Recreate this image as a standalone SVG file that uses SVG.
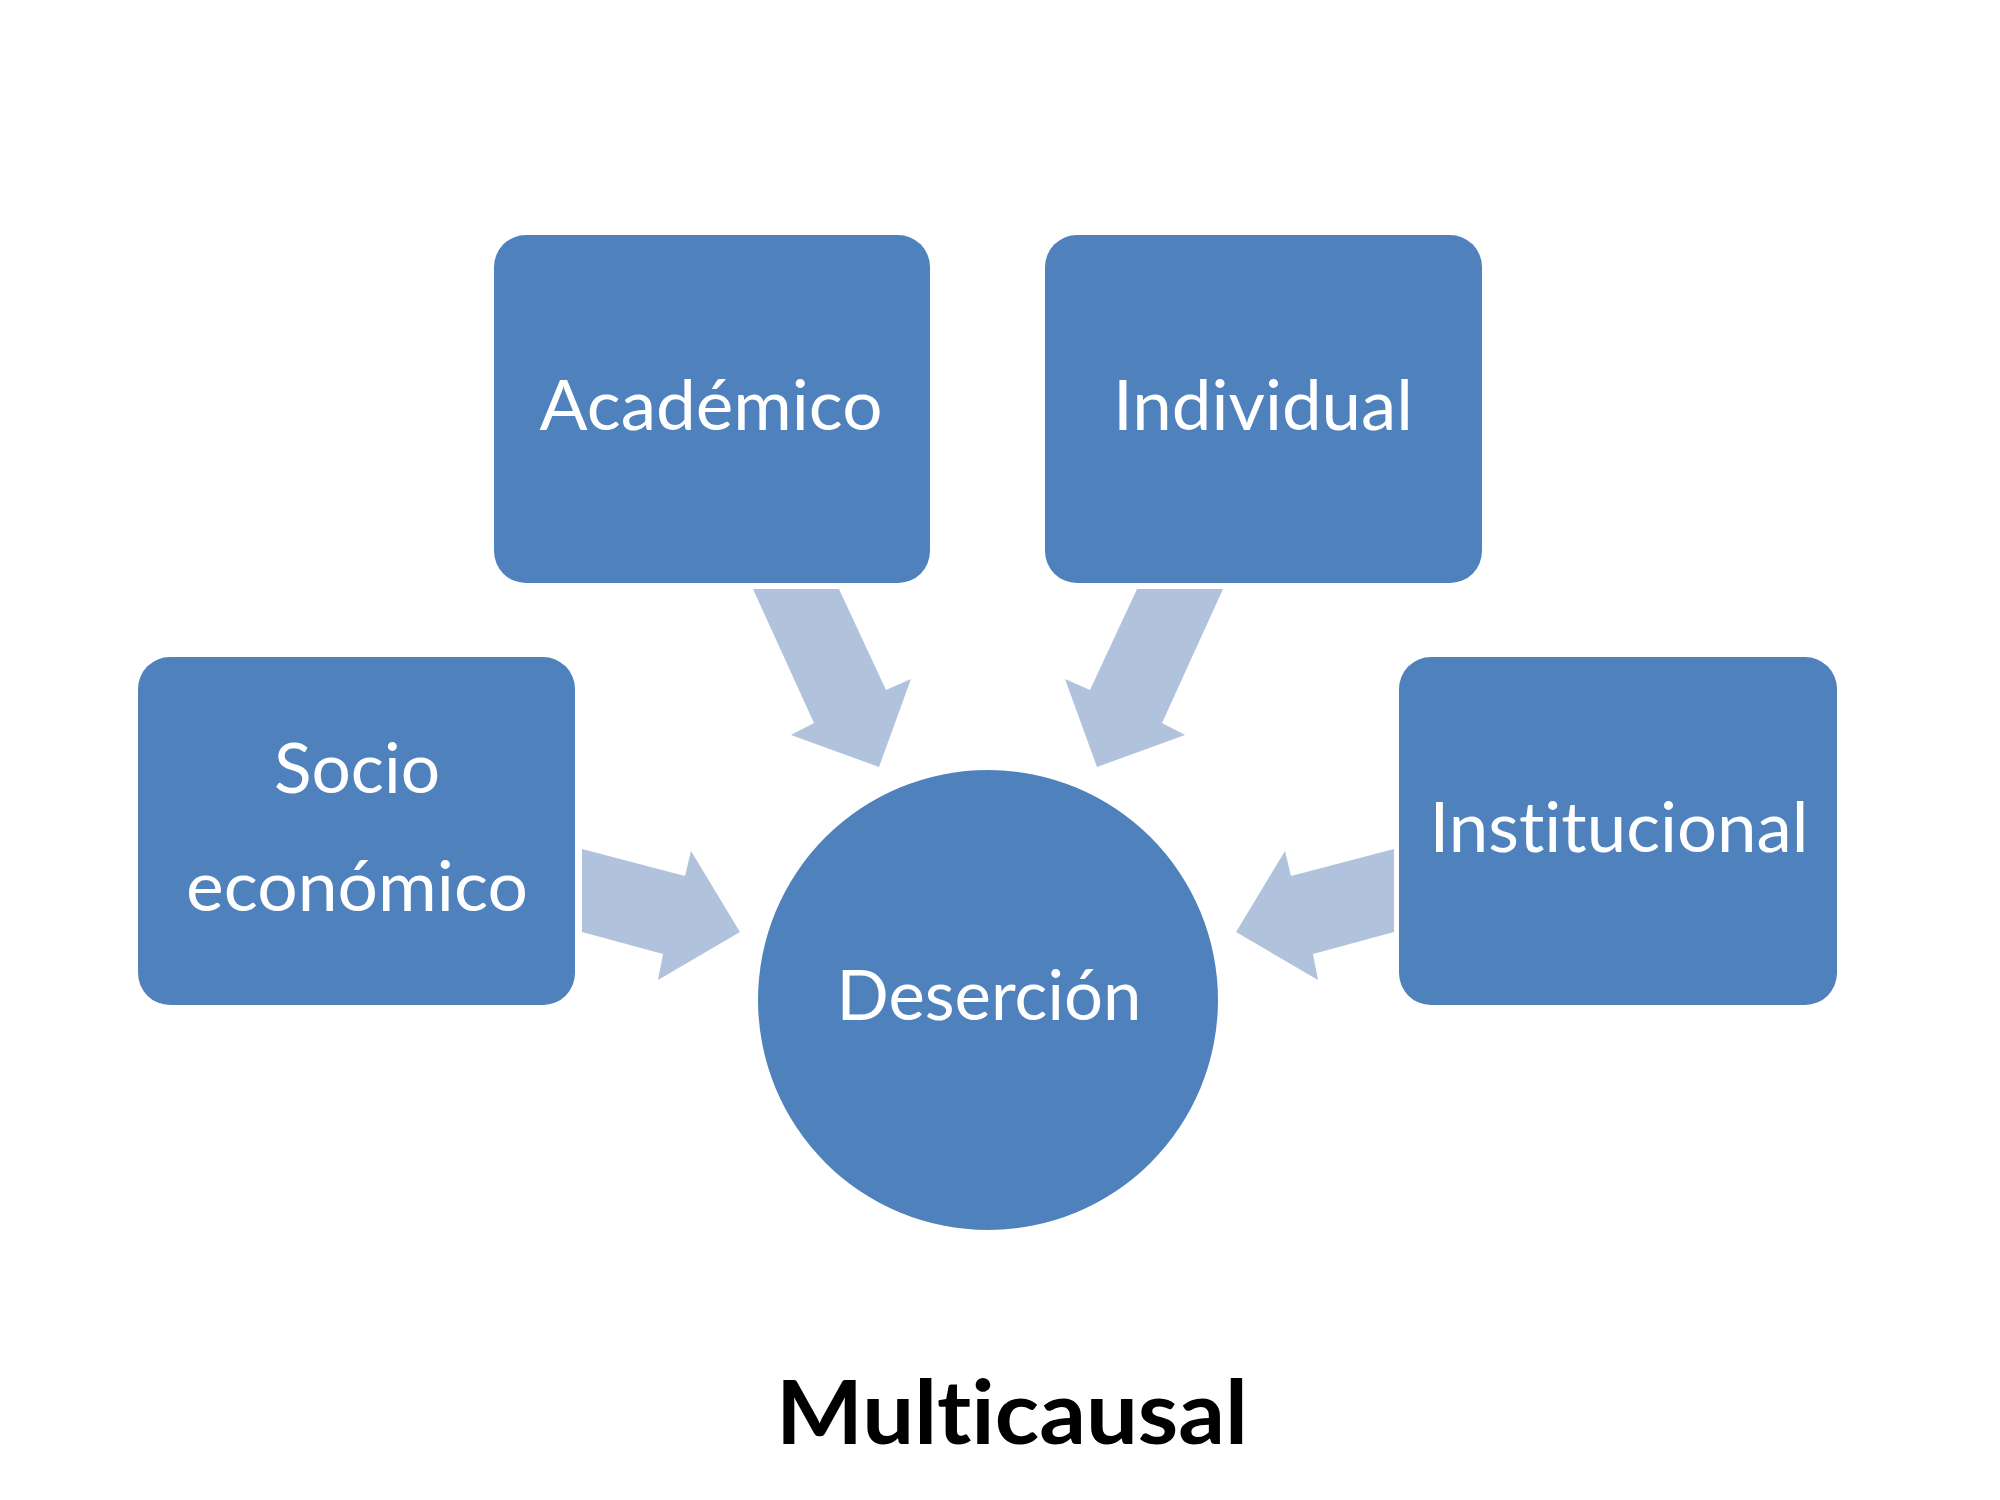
<svg xmlns="http://www.w3.org/2000/svg" width="2000" height="1500" viewBox="0 0 2000 1500">
<style>
.box{fill:#4F81BD}
.arr{fill:#B0C2DC}
.lbl{font-family:Lato,"Open Sans","Liberation Sans",sans-serif;font-size:70px;fill:#FFFFFF;text-anchor:middle;font-variant-ligatures:none;font-feature-settings:"liga" 0,"clig" 0}
.title{font-family:Lato,"Open Sans","Liberation Sans",sans-serif;font-size:88px;font-weight:700;fill:#000000;text-anchor:middle;font-variant-ligatures:none;font-feature-settings:"liga" 0,"clig" 0}
</style>
<rect width="2000" height="1500" fill="#FFFFFF"/>
<g id="connectors">
<polygon class="arr" points="753,589 839,589 886,690 911,679 879,767 791,735 814,723"/>
<polygon class="arr" points="1223,589 1137,589 1090,690 1065,679 1097,767 1185,735 1162,723"/>
<polygon class="arr" points="582,849 685,876 691,851 740,932 658,980 663,954 582,932"/>
<polygon class="arr" points="1394,849 1291,876 1285,851 1236,932 1318,980 1313,954 1394,932"/>
</g>
<g id="node-academico">
<rect class="box" x="494" y="235" width="436" height="348" rx="32"/>
<text class="lbl" x="711" y="430" textLength="343" lengthAdjust="spacingAndGlyphs">Académico</text>
</g>
<g id="node-individual">
<rect class="box" x="1045" y="235" width="437" height="348" rx="32"/>
<text class="lbl" x="1263" y="430" textLength="300" lengthAdjust="spacingAndGlyphs">Individual</text>
</g>
<g id="node-socio">
<rect class="box" x="138" y="657" width="437" height="348" rx="32"/>
<text class="lbl" x="357" y="793" textLength="166" lengthAdjust="spacingAndGlyphs">Socio</text>
<text class="lbl" x="357" y="911" textLength="342" lengthAdjust="spacingAndGlyphs">económico</text>
</g>
<g id="node-institucional">
<rect class="box" x="1399" y="657" width="438" height="348" rx="32"/>
<text class="lbl" x="1619" y="852" textLength="379" lengthAdjust="spacingAndGlyphs">Institucional</text>
</g>
<g id="node-desercion">
<circle class="box" cx="988" cy="1000" r="230"/>
<text class="lbl" x="989" y="1020" textLength="305" lengthAdjust="spacingAndGlyphs">Deserción</text>
</g>
<g id="title">
<text class="title" x="1012" y="1444" textLength="472" lengthAdjust="spacingAndGlyphs">Multicausal</text>
</g>
</svg>
